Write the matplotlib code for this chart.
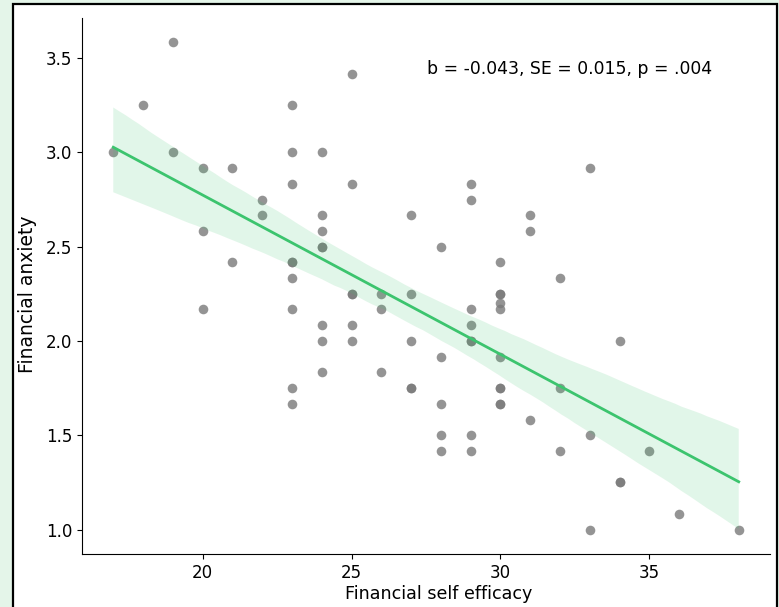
import matplotlib
matplotlib.use("Agg")
import matplotlib.pyplot as plt
import matplotlib.patches as mpatches
import numpy as np
import pandas as pd
import seaborn as sns

# Data (x = self efficacy score, y = anxiety score)
efficacy_groups = [17, 18, 19, 20, 21, 22, 23, 24, 25, 26, 27, 28, 29, 30, 31, 32, 33, 34, 35, 36, 38]
anxiety_groups = [
    [3.0],
    [3.25],
    [3.583, 3.0],
    [2.917, 2.583, 2.167],
    [2.917, 2.417],
    [2.75, 2.667],
    [3.25, 3.0, 2.833, 2.417, 2.417, 2.333, 2.167, 1.75, 1.667],
    [3.0, 2.667, 2.583, 2.5, 2.5, 2.083, 2.0, 1.833],
    [3.417, 2.833, 2.25, 2.25, 2.083, 2.0],
    [2.25, 2.167, 1.833],
    [2.667, 2.25, 2.0, 1.75, 1.75],
    [2.5, 1.917, 1.667, 1.5, 1.417],
    [2.833, 2.75, 2.167, 2.083, 2.0, 2.0, 1.5, 1.417],
    [2.417, 2.25, 2.25, 2.2, 2.167, 1.917, 1.75, 1.75, 1.667, 1.667],
    [2.667, 2.583, 1.583],
    [2.333, 1.75, 1.417],
    [2.917, 1.5, 1.0],
    [2.0, 1.25, 1.25],
    [1.417],
    [1.083],
    [1.0],
]
x_label = "Financial self efficacy"
y_label = "Financial anxiety"
stats_text = "b = -0.043, SE = 0.015, p = .004"

xs, ys = [], []
for xv, group in zip(efficacy_groups, anxiety_groups):
    for yv in group:
        xs.append(xv)
        ys.append(yv)
df = pd.DataFrame({"eff": xs, "anx": ys})

fig = plt.figure(figsize=(7.79, 6.07), dpi=100, facecolor="#e4f5e9")
# white panel with black border
panel = mpatches.Rectangle((12.5 / 779, -0.05), (776.5 - 12.5) / 779, (607 - 3.5) / 607 + 0.05,
                           transform=fig.transFigure, facecolor="white", edgecolor="black",
                           linewidth=1.6, zorder=-10)
fig.patches.append(panel)

ax = fig.add_axes([82 / 779, (607 - 554) / 607, (770 - 82) / 779, (554 - 18) / 607])
ax.set_zorder(5)
ax.set_facecolor("white")

line_color = "#3cc46e"
sns.regplot(data=df, x="eff", y="anx", ax=ax, seed=3,
            scatter_kws={"color": "#7a7a7a", "s": 48, "alpha": 0.8, "linewidths": 0},
            line_kws={"color": line_color, "linewidth": 2.0})
# lighten the band
for coll in ax.collections[1:]:
    coll.set_facecolor(line_color)
    coll.set_alpha(0.15)

sns.despine(ax=ax)
ax.set_xlabel(x_label, fontsize=12.6)
ax.set_ylabel(y_label, fontsize=13.5)
ax.xaxis.set_label_coords(0.519, -0.058)
ax.yaxis.set_label_coords(-0.066, 0.485)
ax.tick_params(labelsize=12)
ax.set_xticks([20, 25, 30, 35])
ax.set_yticks([1.0, 1.5, 2.0, 2.5, 3.0, 3.5])
ax.text((427 - 82) / 688, (554 - 74) / 536, stats_text, transform=ax.transAxes,
        fontsize=12.4, va="baseline", ha="left")

fig.savefig("out.png", dpi=100, facecolor=fig.get_facecolor())
